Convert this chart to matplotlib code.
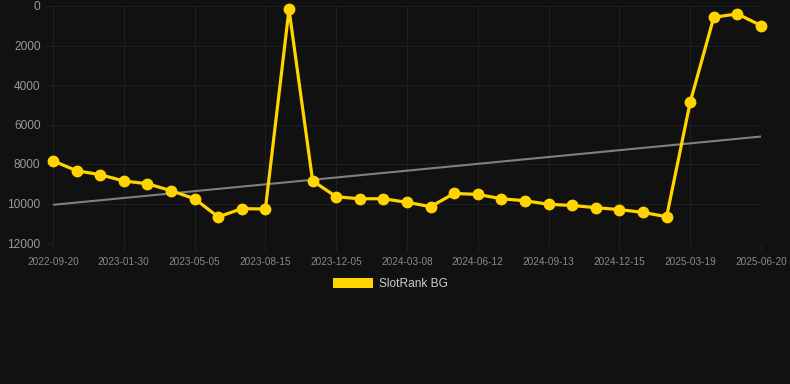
import numpy as np
import matplotlib
matplotlib.use("Agg")
import matplotlib.pyplot as plt
from matplotlib.patches import Patch

plt.rcParams['font.family'] = ['Liberation Sans', 'DejaVu Sans']

# rank values (lower is better, axis is reversed)
values = [7840, 8340, 8540, 8860, 9000, 9350, 9760, 10680, 10260, 10280,
          170, 8850, 9660, 9760, 9760, 9940, 10160, 9490, 9540, 9760,
          9860, 10040, 10100, 10210, 10310, 10450, 10670, 4870, 570, 400, 990]
tick_dates = ["2022-09-20", "2023-01-30", "2023-05-05", "2023-08-15",
              "2023-12-05", "2024-03-08", "2024-06-12", "2024-09-13",
              "2024-12-15", "2025-03-19", "2025-06-20"]
y_ticks = [0, 2000, 4000, 6000, 8000, 10000, 12000]
series_name = "SlotRank BG"

bg = "#111111"
gold = "#FFD400"

x = np.arange(len(values))
# trend line = least squares fit
slope, icpt = np.polyfit(x, values, 1)
trend = slope * x + icpt

fig = plt.figure(figsize=(7.9, 3.84), dpi=100, facecolor=bg)
ax = fig.add_axes([53/790, 1 - 243/384, (761-53)/790, (243-6)/384])
ax.set_facecolor(bg)

ax.plot(x, trend, color="#808080", lw=1.5, zorder=2)
ax.plot(x, values, color=gold, lw=2.3, marker="o", markersize=8.5,
        markeredgewidth=0, zorder=3, clip_on=False)

ax.set_xlim(0, len(values) - 1)
ax.set_ylim(12000, 0)
ax.set_yticks(y_ticks)
ax.set_yticklabels([str(v) for v in y_ticks])
ax.set_xticks(x[::3])
ax.set_xticklabels(tick_dates)

ax.grid(True, color="#1f1f1f", lw=0.8)
ax.set_axisbelow(True)
for s in ax.spines.values():
    s.set_visible(False)
ax.tick_params(axis="x", colors="#1f1f1f", labelcolor="#8a8a8a",
               labelsize=7.2, length=6, pad=4)
ax.tick_params(axis="y", colors="#1f1f1f", labelcolor="#999999",
               labelsize=8.6, length=6, pad=3)

leg = fig.legend(handles=[Patch(facecolor=gold, edgecolor="none", label=series_name)],
                 loc="center", bbox_to_anchor=(0.494, 1 - 284/384),
                 frameon=False, fontsize=8.6, handlelength=3.4, handleheight=1.0,
                 handletextpad=0.5)
for t in leg.get_texts():
    t.set_color("#cccccc")

fig.savefig("out.png", dpi=100, facecolor=bg)
